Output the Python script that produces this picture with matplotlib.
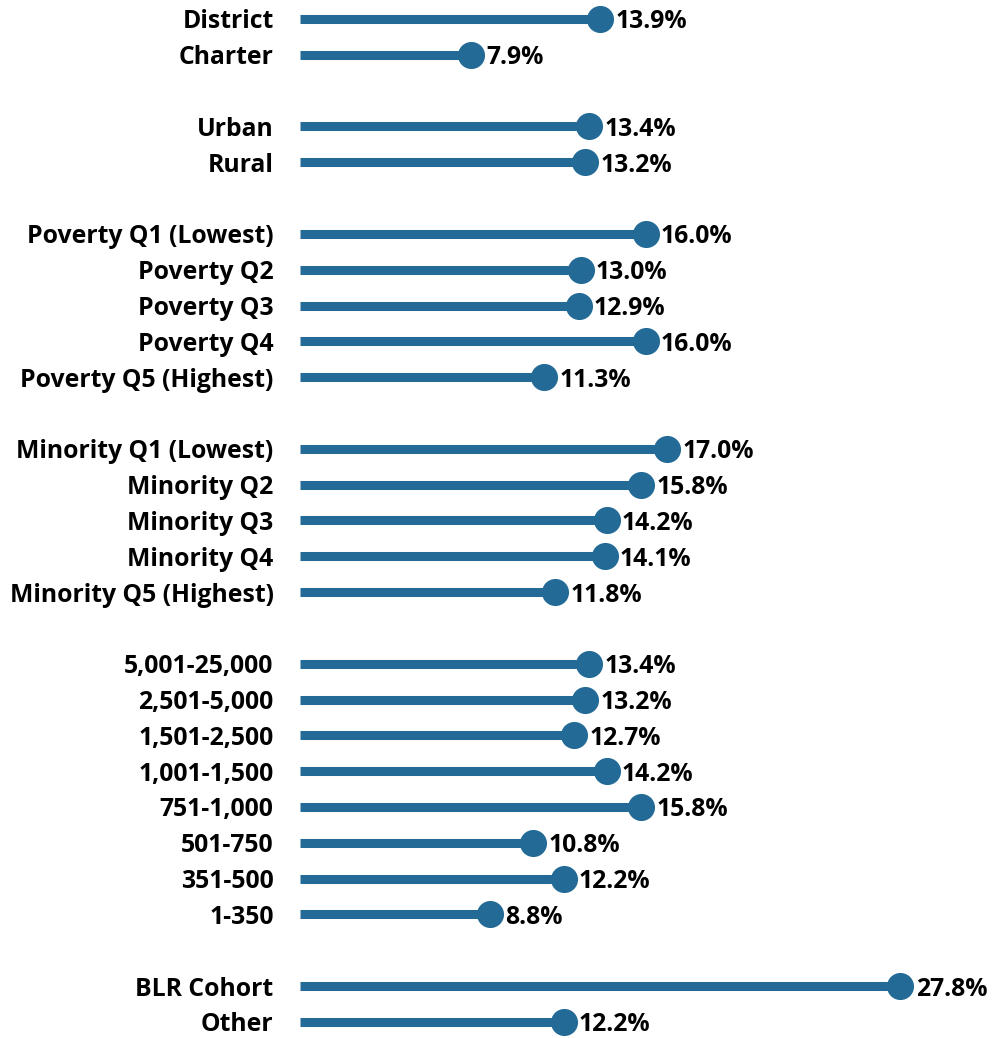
import matplotlib.pyplot as plt

# Groups of categories (blank slot between each group)
grupos = [
    ["District", "Charter"],
    ["Urban", "Rural"],
    ["Poverty Q1 (Lowest)", "Poverty Q2", "Poverty Q3", "Poverty Q4", "Poverty Q5 (Highest)"],
    ["Minority Q1 (Lowest)", "Minority Q2", "Minority Q3", "Minority Q4", "Minority Q5 (Highest)"],
    ["5,001-25,000", "2,501-5,000", "1,501-2,500", "1,001-1,500", "751-1,000", "501-750", "351-500", "1-350"],
    ["BLR Cohort", "Other"],
]
valores = [
    [13.9, 7.9],
    [13.4, 13.2],
    [16.0, 13.0, 12.9, 16.0, 11.3],
    [17.0, 15.8, 14.2, 14.1, 11.8],
    [13.4, 13.2, 12.7, 14.2, 15.8, 10.8, 12.2, 8.8],
    [27.8, 12.2],
]

cor = "#236A96"
plt.rcParams["font.family"] = ["Open Sans", "DejaVu Sans"]

# slot positions with a blank row between groups
categorias, vals, posicoes = [], [], []
slot = 0
for nomes, vs in zip(grupos, valores):
    for n, v in zip(nomes, vs):
        categorias.append(n)
        vals.append(v)
        posicoes.append(slot)
        slot += 1
    slot += 1

fig = plt.figure(figsize=(9.92, 10.38), dpi=100)
ax = fig.add_axes([300 / 992, 0, 692 / 992, 1])

ax.hlines(posicoes, 0, vals, color=cor, linewidth=6.5, capstyle="butt")
ax.plot(vals, posicoes, "o", color=cor, markersize=19.5, markeredgewidth=0)

for p, v in zip(posicoes, vals):
    ax.annotate(f"{v:.1f}%", (v, p), xytext=(11, 0), textcoords="offset points",
                va="center_baseline", ha="left", fontsize=17.8, fontweight="bold", color="black")

ax.set_xlim(0, 692 / 21.6)
ax.set_ylim(28.45, -0.53)
ax.set_yticks(posicoes)
ax.set_yticklabels(categorias, fontsize=17.8, fontweight="bold")
ax.tick_params(axis="y", length=0, pad=19)
ax.set_xticks([])
for s in ax.spines.values():
    s.set_visible(False)

plt.savefig("out.png", dpi=100)
